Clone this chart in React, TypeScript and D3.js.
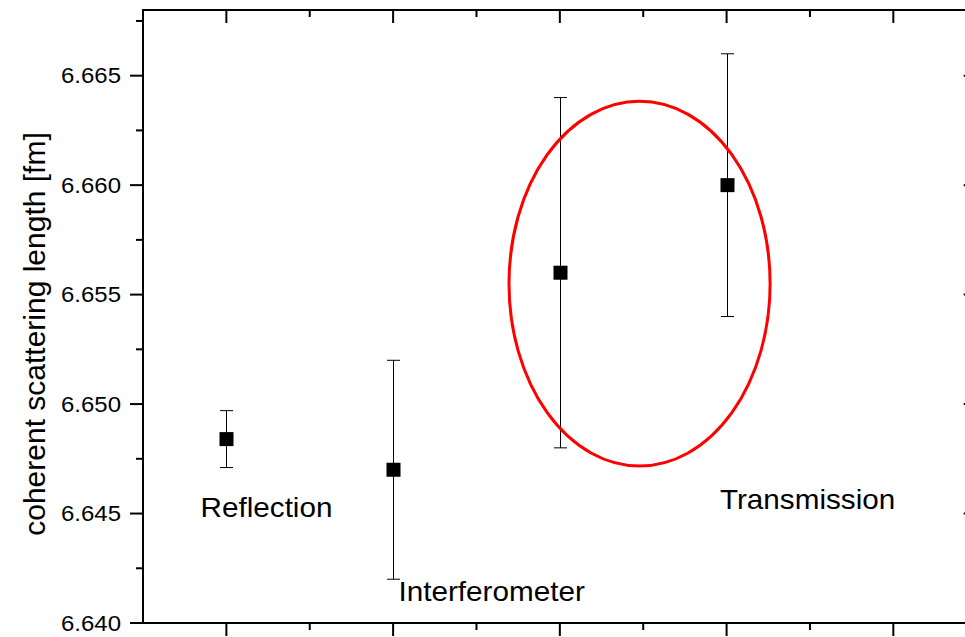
import React from "react";
import * as d3 from "d3";

// Measurement series: position index, value and symmetric uncertainty (fm)
const positions = [1, 2, 3, 4];
const values = [6.6484, 6.647, 6.656, 6.66];
const errors = [0.0013, 0.005, 0.008, 0.006];

// Method labels and where they sit (x index, y value in fm)
const labelTexts = ["Reflection", "Interferometer", "Transmission"];
const labelX = [0.845, 2.032, 3.96];
const labelY = [6.64484, 6.641, 6.64521];

// Axis ticks
const yMajorTicks = [6.64, 6.645, 6.65, 6.655, 6.66, 6.665];
const yMinorTicks = [6.6425, 6.6475, 6.6525, 6.6575, 6.6625, 6.6675];
const xMajorTicks = [1, 2, 3, 4, 5];
const xMinorTicks = [1.5, 2.5, 3.5, 4.5];

// Highlight ellipse around the transmission results (data units)
const ellipseCenter = [3.478, 6.6555];
const ellipseRadii = [0.783, 0.00833];

const W = 965;
const H = 637;
const FONT = "'Liberation Sans', Arial, Helvetica, sans-serif";

export default function App() {
  const x = d3.scaleLinear().domain([0.5, 5.5]).range([143, 976.7]);
  const y = d3.scaleLinear().domain([6.64, 6.668]).range([623, 10]);
  const left = x(0.5);
  const right = x(5.5);
  const top = y(6.668);
  const bottom = y(6.64);
  const majorLen = 13;
  const minorLen = 7;
  const fmt = d3.format(".3f");

  const ecx = x(ellipseCenter[0]);
  const ecy = y(ellipseCenter[1]);
  const erx = x(ellipseCenter[0] + ellipseRadii[0]) - ecx;
  const ery = y(ellipseCenter[1] - ellipseRadii[1]) - ecy;

  return (
    <svg
      width={W}
      height={H}
      style={{ position: "absolute", left: 0, top: 0, background: "#fff" }}
    >
      <rect x={0} y={0} width={W} height={H} fill="#fff" />

      {/* frame */}
      <g stroke="#000" strokeWidth={2} fill="none" strokeLinecap="square">
        <line x1={left} y1={top} x2={right} y2={top} />
        <line x1={left} y1={bottom} x2={right} y2={bottom} />
        <line x1={left} y1={top} x2={left} y2={bottom} />
        <line x1={right} y1={top} x2={right} y2={bottom} />
      </g>

      {/* left/bottom ticks point outward, top/right ticks inward */}
      <g stroke="#000" strokeWidth={2}>
        {yMajorTicks.map((t) => (
          <g key={"ym" + t}>
            <line x1={left - majorLen} x2={left} y1={y(t)} y2={y(t)} />
            <line x1={right - majorLen} x2={right} y1={y(t)} y2={y(t)} />
          </g>
        ))}
        {yMinorTicks.map((t) => (
          <g key={"yn" + t}>
            <line x1={left - minorLen} x2={left} y1={y(t)} y2={y(t)} />
            <line x1={right - minorLen} x2={right} y1={y(t)} y2={y(t)} />
          </g>
        ))}
        {xMajorTicks.map((t) => (
          <g key={"xm" + t}>
            <line x1={x(t)} x2={x(t)} y1={bottom} y2={bottom + majorLen} />
            <line x1={x(t)} x2={x(t)} y1={top} y2={top + majorLen} />
          </g>
        ))}
        {xMinorTicks.map((t) => (
          <g key={"xn" + t}>
            <line x1={x(t)} x2={x(t)} y1={bottom} y2={bottom + minorLen} />
            <line x1={x(t)} x2={x(t)} y1={top} y2={top + minorLen} />
          </g>
        ))}
      </g>

      {/* y tick labels */}
      <g fontFamily={FONT} fontSize={22} fill="#000">
        {yMajorTicks.map((t) => (
          <text
            key={"yl" + t}
            x={0}
            y={0}
            textAnchor="end"
            dominantBaseline="central"
            transform={`translate(${left - 22},${y(t)}) scale(1.09,1)`}
          >
            {fmt(t)}
          </text>
        ))}
      </g>

      {/* y axis title */}
      <text
        fontFamily={FONT}
        fontSize={30}
        fill="#000"
        textAnchor="middle"
        dominantBaseline="central"
        transform={`translate(34,334) rotate(-90)`}
      >
        coherent scattering length [fm]
      </text>

      {/* error bars */}
      <g stroke="#000" strokeWidth={1}>
        {positions.map((p, i) => {
          const cx = Math.round(x(p)) + 0.5;
          const y1 = y(values[i] + errors[i]);
          const y2 = y(values[i] - errors[i]);
          return (
            <g key={"e" + i}>
              <line x1={cx} x2={cx} y1={y1} y2={y2} />
              <line x1={cx - 6.5} x2={cx + 6.5} y1={y1} y2={y1} />
              <line x1={cx - 6.5} x2={cx + 6.5} y1={y2} y2={y2} />
            </g>
          );
        })}
      </g>

      {/* markers */}
      <g fill="#000">
        {positions.map((p, i) => (
          <rect
            key={"m" + i}
            x={Math.round(x(p)) + 0.5 - 7}
            y={y(values[i]) - 7}
            width={14}
            height={14}
          />
        ))}
      </g>

      {/* highlight ellipse */}
      <ellipse
        cx={ecx}
        cy={ecy}
        rx={erx}
        ry={ery}
        fill="none"
        stroke="#ff0000"
        strokeWidth={3}
      />

      {/* method labels */}
      <g fontFamily={FONT} fontSize={28} fill="#000">
        {labelTexts.map((t, i) => (
          <text
            key={t}
            x={0}
            y={0}
            transform={`translate(${x(labelX[i])},${y(labelY[i])}) scale(1.06,1)`}
          >
            {t}
          </text>
        ))}
      </g>
    </svg>
  );
}
